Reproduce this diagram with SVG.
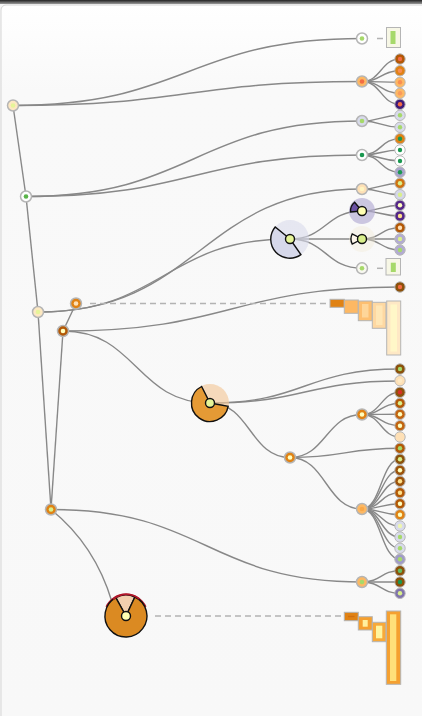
<svg xmlns="http://www.w3.org/2000/svg" width="422" height="716" viewBox="0 0 422 716">
<defs>
<linearGradient id="topbar" x1="0" y1="0" x2="0" y2="1"><stop offset="0" stop-color="#222"/><stop offset="1" stop-color="#999"/></linearGradient>
<linearGradient id="panel" x1="0" y1="0" x2="0" y2="1"><stop offset="0" stop-color="#ffffff"/><stop offset="0.12" stop-color="#f9f9f9"/><stop offset="1" stop-color="#f8f8f8"/></linearGradient>
<style>
.e{fill:none;stroke:#888;stroke-width:1.4}
.n{stroke:#b5b5b5;stroke-width:1.5}
.lf{stroke:#b8b8b8;stroke-width:1}
.w{stroke:#111;stroke-width:1.4}
.d{stroke:#b3b3b3;stroke-width:1.5;stroke-dasharray:6 4;fill:none}
.bar{stroke:#b5b5b5;stroke-width:1}
</style>
</defs>
<rect x="0" y="0" width="422" height="716" fill="#f6f6f6"/>
<rect x="1" y="5" width="440" height="720" rx="5" fill="url(#panel)" stroke="#d6d6d6" stroke-width="1"/>
<rect x="0" y="0" width="422" height="4" fill="url(#topbar)"/>

<g id="connectors">
<path class="e" d="M13,105.5C187.5,105.5 187.5,38.5 362,38.5"/>
<path class="e" d="M13,105.5C187.5,105.5 187.5,81.5 362,81.5"/>
<path class="e" d="M13,105.5L26,196.5"/>
<path class="e" d="M26,196.5C194,196.5 194,121 362,121"/>
<path class="e" d="M26,196.5C194,196.5 194,155 362,155"/>
<path class="e" d="M26,196.5L38,312"/>
<path class="e" d="M38,312C200,312 200,189 362,189"/>
<path class="e" d="M38,312C164,312 164,239 290,239"/>
<path class="e" d="M38,312L51,509.5"/>
<path class="e" d="M51,509.5L63,331"/>
<path class="e" d="M51,509.5C206.5,509.5 206.5,582 362,582"/>
<path class="e" d="M51,509.5Q95,545 112,602"/>
<path class="e" d="M63,331L76,303.5"/>
<path class="e" d="M63,331C136.5,331 136.5,403 210,403"/>
<path class="e" d="M63,331C231.5,331 231.5,287 400,287"/>
<path class="d" d="M90,303.5H330"/>
<path class="d" d="M155,616H344"/>
<path class="d" d="M377,38.5H383"/>
<path class="d" d="M377,268.3H383"/>
<path class="e" d="M290,239C326,239 326,211 362,211"/>
<path class="e" d="M290,239H362"/>
<path class="e" d="M290,239C326,239 326,268.3 362,268.3"/>
<path class="e" d="M210,403C305,403 305,369 400,369"/>
<path class="e" d="M210,403C305,403 305,381 400,381"/>
<path class="e" d="M210,403C250,403 250,457.5 290,457.5"/>
<path class="e" d="M290,457.5C326,457.5 326,414.5 362,414.5"/>
<path class="e" d="M290,457.5C345,457.5 345,448.3 400,448.3"/>
<path class="e" d="M290,457.5C326,457.5 326,509 362,509"/>
<path class="e" d="M362,81.5C381,81.5 381,59 400,59"/>
<path class="e" d="M362,81.5C381,81.5 381,70.7 400,70.7"/>
<path class="e" d="M362,81.5C381,81.5 381,82.3 400,82.3"/>
<path class="e" d="M362,81.5C381,81.5 381,93.3 400,93.3"/>
<path class="e" d="M362,81.5C381,81.5 381,104.3 400,104.3"/>
<path class="e" d="M362,121C381,121 381,115.3 400,115.3"/>
<path class="e" d="M362,121C381,121 381,127.3 400,127.3"/>
<path class="e" d="M362,155C381,155 381,138.7 400,138.7"/>
<path class="e" d="M362,155C381,155 381,150 400,150"/>
<path class="e" d="M362,155C381,155 381,161 400,161"/>
<path class="e" d="M362,155C381,155 381,172.3 400,172.3"/>
<path class="e" d="M362,189C381,189 381,183.3 400,183.3"/>
<path class="e" d="M362,189C381,189 381,194.7 400,194.7"/>
<path class="e" d="M362,211C381,211 381,205.3 400,205.3"/>
<path class="e" d="M362,211C381,211 381,216 400,216"/>
<path class="e" d="M362,239C381,239 381,227.7 400,227.7"/>
<path class="e" d="M362,239C381,239 381,239 400,239"/>
<path class="e" d="M362,239C381,239 381,250 400,250"/>
<path class="e" d="M362,414.5C381,414.5 381,392.3 400,392.3"/>
<path class="e" d="M362,414.5C381,414.5 381,403.3 400,403.3"/>
<path class="e" d="M362,414.5C381,414.5 381,414.3 400,414.3"/>
<path class="e" d="M362,414.5C381,414.5 381,425.7 400,425.7"/>
<path class="e" d="M362,414.5C381,414.5 381,437 400,437"/>
<path class="e" d="M362,509C381,509 381,459.3 400,459.3"/>
<path class="e" d="M362,509C381,509 381,470.3 400,470.3"/>
<path class="e" d="M362,509C381,509 381,481.3 400,481.3"/>
<path class="e" d="M362,509C381,509 381,492.7 400,492.7"/>
<path class="e" d="M362,509C381,509 381,503.7 400,503.7"/>
<path class="e" d="M362,509C381,509 381,514.7 400,514.7"/>
<path class="e" d="M362,509C381,509 381,526 400,526"/>
<path class="e" d="M362,509C381,509 381,537 400,537"/>
<path class="e" d="M362,509C381,509 381,548.3 400,548.3"/>
<path class="e" d="M362,509C381,509 381,559.3 400,559.3"/>
<path class="e" d="M362,582C381,582 381,570.7 400,570.7"/>
<path class="e" d="M362,582C381,582 381,582 400,582"/>
<path class="e" d="M362,582C381,582 381,593.3 400,593.3"/>
</g>

<g id="n-root"><circle class="n" cx="13" cy="105.5" r="5.5" fill="#fde8c2"/><circle cx="13" cy="105.5" r="2.3" fill="#e6f598"/></g>
<g id="n-1"><circle class="n" cx="26" cy="196.5" r="5.5" fill="#ffffff"/><circle cx="26" cy="196.5" r="2.3" fill="#5ab44a"/></g>
<g id="n-2"><circle class="n" cx="38" cy="312" r="5.5" fill="#fde8c2"/><circle cx="38" cy="312" r="2.3" fill="#e6f598"/></g>
<g id="n-3"><circle class="n" cx="51" cy="509.5" r="5.5" fill="#e08214"/><circle cx="51" cy="509.5" r="2.3" fill="#d9ef8b"/></g>
<g id="n-4"><circle class="n" cx="63" cy="331" r="5.5" fill="#b35806"/><circle cx="63" cy="331" r="2.3" fill="#ffffbf"/></g>
<g id="n-5"><circle class="n" cx="76" cy="303.5" r="5.5" fill="#e08214"/><circle cx="76" cy="303.5" r="2.3" fill="#fee0b6"/></g>
<g id="n-a"><circle class="n" cx="362" cy="38.5" r="5.5" fill="#ffffff"/><circle cx="362" cy="38.5" r="2.3" fill="#a6d96a"/></g>
<g id="n-b"><circle class="n" cx="362" cy="81.5" r="5.5" fill="#fdb863"/><circle cx="362" cy="81.5" r="2.3" fill="#f46d43"/></g>
<g id="n-c"><circle class="n" cx="362" cy="121" r="5.5" fill="#d8daeb"/><circle cx="362" cy="121" r="2.3" fill="#a6d96a"/></g>
<g id="n-d"><circle class="n" cx="362" cy="155" r="5.5" fill="#ffffff"/><circle cx="362" cy="155" r="2.3" fill="#1a9850"/></g>
<g id="n-e"><circle class="n" cx="362" cy="189" r="5.5" fill="#fee0b6"/><circle cx="362" cy="189" r="2.3" fill="#fff5c0"/></g>
<g id="n-f"><circle class="n" cx="362" cy="268.3" r="5.5" fill="#f8f8f0"/><circle cx="362" cy="268.3" r="2.3" fill="#a6d96a"/></g>
<g id="n-g"><circle class="n" cx="290" cy="457.5" r="5.5" fill="#e08214"/><circle cx="290" cy="457.5" r="2.3" fill="#ffffbf"/></g>
<g id="n-h"><circle class="n" cx="362" cy="414.5" r="5.5" fill="#e08214"/><circle cx="362" cy="414.5" r="2.3" fill="#ffffbf"/></g>
<g id="n-i"><circle class="n" cx="362" cy="509" r="5.5" fill="#fdb863"/><circle cx="362" cy="509" r="2.3" fill="#f9a848"/></g>
<g id="n-j"><circle class="n" cx="362" cy="582" r="5.5" fill="#fdb863"/><circle cx="362" cy="582" r="2.3" fill="#a6d96a"/></g>

<g id="pie-1">
<circle cx="290" cy="239" r="19" fill="#d8daeb" opacity="0.6"/>
<path class="w" d="M290,239L300.9,254.6A19,19 0 0 1 275.2,227Z" fill="#d6d8ea"/>
<circle class="w" cx="290" cy="239" r="4.5" fill="#e6f598"/>
</g>
<g id="pie-2">
<circle cx="362" cy="211" r="13" fill="#b2abd2" opacity="0.65"/>
<path class="w" d="M362,211L350.5,212A11.5,11.5 0 0 1 354.6,202.2Z" fill="#6a51a3"/>
<circle class="w" cx="362" cy="211" r="4.5" fill="#ffffb2"/>
</g>
<g id="pie-3">
<circle cx="362" cy="239" r="13" fill="#f3ecd8" opacity="0.4"/>
<path class="w" d="M362,239L352.2,244A11,11 0 0 1 352.2,234Z" fill="#fdf6ea"/>
<circle class="w" cx="362" cy="239" r="4.5" fill="#d9ef8b"/>
</g>
<g id="pie-4">
<circle cx="210" cy="403" r="19" fill="#f3c89a" opacity="0.65"/>
<path class="w" d="M210,403L228.2,406.2A18.5,18.5 0 1 1 201.6,386.5Z" fill="#e59a35"/>
<circle class="w" cx="210" cy="403" r="4.5" fill="#e6f598"/>
</g>
<g id="pie-5">
<path d="M106.5,606.9A21.5,21.5 0 0 1 145.5,606.9" fill="none" stroke="#b2182b" stroke-width="2.2"/>
<path class="w" d="M126,616L115.8,597.6A21,21 0 0 1 134.9,597Z" fill="#f2cfae"/>
<path class="w" d="M126,616L134.9,597A21,21 0 1 1 115.8,597.6Z" fill="#db8a22"/>
<path d="M113,599.3A21,21 0 0 1 139.5,599" fill="none" stroke="#b2182b" stroke-width="1.6"/>
<circle class="w" cx="126" cy="616" r="4.5" fill="#ffffb2"/>
</g>

<g id="bar-top">
<rect class="bar" x="386.5" y="27.5" width="14" height="20" fill="#f7f7e6"/>
<rect x="390.5" y="31" width="5" height="13" fill="#a6d96a"/>
</g>
<g id="bar-mid">
<rect class="bar" x="386" y="258.5" width="14.5" height="16.5" fill="#f7f7e6"/>
<rect x="390.8" y="262.7" width="5" height="9.3" fill="#a6d96a"/>
</g>
<g id="bars-1">
<rect class="bar" x="330" y="299.3" width="14.3" height="8" fill="#e08214"/>
<rect class="bar" x="344.3" y="300" width="14" height="13.3" fill="#fdb863"/>
<rect class="bar" x="358.3" y="301" width="14" height="19.7" fill="#fdbf70"/>
<rect x="362" y="304" width="6.5" height="13.5" fill="#fed699"/>
<rect class="bar" x="372.3" y="302.3" width="13.7" height="26" fill="#fed8a2"/>
<rect x="376" y="305.5" width="6.5" height="19.5" fill="#ffe6b5"/>
<rect class="bar" x="386.7" y="301" width="14" height="54" fill="#fee8c5"/>
<rect x="390.5" y="304.5" width="6.5" height="47" fill="#fff7c8"/>
</g>
<g id="bars-2">
<rect class="bar" x="344.3" y="612.3" width="14" height="8.4" fill="#e08214"/>
<rect x="348" y="615.8" width="6.5" height="1.4" fill="#d06f10"/>
<rect class="bar" x="358.3" y="616.7" width="14" height="13.3" fill="#f5a030"/>
<rect x="362.7" y="620" width="5" height="6.7" fill="#fff0a0"/>
<rect class="bar" x="372.3" y="622.3" width="13.7" height="19.4" fill="#f7a93a"/>
<rect x="376" y="625.7" width="6.3" height="12.6" fill="#fff5a0"/>
<rect class="bar" x="386.3" y="611" width="14.4" height="73.3" fill="#f5a030"/>
<rect x="390" y="614.3" width="6.3" height="66.7" fill="#ffe07a"/>
</g>

<g id="leaves">
<g id="l01"><circle class="lf" cx="400" cy="59" r="5.2" fill="#b35806"/><circle cx="400" cy="59" r="2.2" fill="#f46d43"/></g>
<g id="l02"><circle class="lf" cx="400" cy="70.7" r="5.2" fill="#e08214"/><circle cx="400" cy="70.7" r="2.2" fill="#f88d52"/></g>
<g id="l03"><circle class="lf" cx="400" cy="82.3" r="5.2" fill="#fdb863"/><circle cx="400" cy="82.3" r="2.2" fill="#f98e52"/></g>
<g id="l04"><circle class="lf" cx="400" cy="93.3" r="5.2" fill="#fdb863"/><circle cx="400" cy="93.3" r="2.2" fill="#f99a5c"/></g>
<g id="l05"><circle class="lf" cx="400" cy="104.3" r="5.2" fill="#3f1a78"/><circle cx="400" cy="104.3" r="2.2" fill="#f46d43"/></g>
<g id="l06"><circle class="lf" cx="400" cy="115.3" r="5.2" fill="#d8daeb"/><circle cx="400" cy="115.3" r="2.2" fill="#a6d96a"/></g>
<g id="l07"><circle class="lf" cx="400" cy="127.3" r="5.2" fill="#d8daeb"/><circle cx="400" cy="127.3" r="2.2" fill="#a6d96a"/></g>
<g id="l08"><circle class="lf" cx="400" cy="138.7" r="5.2" fill="#e08214"/><circle cx="400" cy="138.7" r="2.2" fill="#1a9850"/></g>
<g id="l09"><circle class="lf" cx="400" cy="150" r="5.2" fill="#ffffff"/><circle cx="400" cy="150" r="2.2" fill="#1a9850"/></g>
<g id="l10"><circle class="lf" cx="400" cy="161" r="5.2" fill="#ffffff"/><circle cx="400" cy="161" r="2.2" fill="#1a9850"/></g>
<g id="l11"><circle class="lf" cx="400" cy="172.3" r="5.2" fill="#a9a4cc"/><circle cx="400" cy="172.3" r="2.2" fill="#1a9850"/></g>
<g id="l12"><circle class="lf" cx="400" cy="183.3" r="5.2" fill="#cf7210"/><circle cx="400" cy="183.3" r="2.2" fill="#d9ef8b"/></g>
<g id="l13"><circle class="lf" cx="400" cy="194.7" r="5.2" fill="#d4d6ea"/><circle cx="400" cy="194.7" r="2.2" fill="#d9ef8b"/></g>
<g id="l14"><circle class="lf" cx="400" cy="205.3" r="5.2" fill="#542788"/><circle cx="400" cy="205.3" r="2.2" fill="#ffffbf"/></g>
<g id="l15"><circle class="lf" cx="400" cy="216" r="5.2" fill="#542788"/><circle cx="400" cy="216" r="2.2" fill="#fee08b"/></g>
<g id="l16"><circle class="lf" cx="400" cy="227.7" r="5.2" fill="#b35806"/><circle cx="400" cy="227.7" r="2.2" fill="#fee0b6"/></g>
<g id="l17"><circle class="lf" cx="400" cy="239" r="5.2" fill="#b2abd2"/><circle cx="400" cy="239" r="2.2" fill="#d9ef8b"/></g>
<g id="l18"><circle class="lf" cx="400" cy="250" r="5.2" fill="#b2abd2"/><circle cx="400" cy="250" r="2.2" fill="#a6d96a"/></g>
<g id="l19"><circle class="lf" cx="400" cy="287" r="5.2" fill="#8c510a"/><circle cx="400" cy="287" r="2.2" fill="#f46d43"/></g>
<g id="l20"><circle class="lf" cx="400" cy="369" r="5.2" fill="#8c510a"/><circle cx="400" cy="369" r="2.2" fill="#a6d96a"/></g>
<g id="l21"><circle class="lf" cx="400" cy="380.7" r="5.2" fill="#fee0b6"/><circle cx="400" cy="380.7" r="2.2" fill="#feeac4"/></g>
<g id="l22"><circle class="lf" cx="400" cy="392.3" r="5.2" fill="#8c510a"/><circle cx="400" cy="392.3" r="2.2" fill="#d73027"/></g>
<g id="l23"><circle class="lf" cx="400" cy="403.3" r="5.2" fill="#b35806"/><circle cx="400" cy="403.3" r="2.2" fill="#d9ef8b"/></g>
<g id="l24"><circle class="lf" cx="400" cy="414.3" r="5.2" fill="#c26410"/><circle cx="400" cy="414.3" r="2.2" fill="#ffffbf"/></g>
<g id="l25"><circle class="lf" cx="400" cy="425.7" r="5.2" fill="#c26410"/><circle cx="400" cy="425.7" r="2.2" fill="#ffffbf"/></g>
<g id="l26"><circle class="lf" cx="400" cy="437" r="5.2" fill="#fee0b6"/><circle cx="400" cy="437" r="2.2" fill="#fee0b6"/></g>
<g id="l27"><circle class="lf" cx="400" cy="448.3" r="5.2" fill="#b35806"/><circle cx="400" cy="448.3" r="2.2" fill="#a6d96a"/></g>
<g id="l28"><circle class="lf" cx="400" cy="459.3" r="5.2" fill="#8c510a"/><circle cx="400" cy="459.3" r="2.2" fill="#d9ef8b"/></g>
<g id="l29"><circle class="lf" cx="400" cy="470.3" r="5.2" fill="#9c520a"/><circle cx="400" cy="470.3" r="2.2" fill="#ffffbf"/></g>
<g id="l30"><circle class="lf" cx="400" cy="481.3" r="5.2" fill="#9c520a"/><circle cx="400" cy="481.3" r="2.2" fill="#fee08b"/></g>
<g id="l31"><circle class="lf" cx="400" cy="492.7" r="5.2" fill="#b35806"/><circle cx="400" cy="492.7" r="2.2" fill="#fee08b"/></g>
<g id="l32"><circle class="lf" cx="400" cy="503.7" r="5.2" fill="#b35806"/><circle cx="400" cy="503.7" r="2.2" fill="#ffffbf"/></g>
<g id="l33"><circle class="lf" cx="400" cy="514.7" r="5.2" fill="#e08214"/><circle cx="400" cy="514.7" r="2.2" fill="#ffffbf"/></g>
<g id="l34"><circle class="lf" cx="400" cy="526" r="5.2" fill="#d8daeb"/><circle cx="400" cy="526" r="2.2" fill="#eef6b0"/></g>
<g id="l35"><circle class="lf" cx="400" cy="537" r="5.2" fill="#d8daeb"/><circle cx="400" cy="537" r="2.2" fill="#a6d96a"/></g>
<g id="l36"><circle class="lf" cx="400" cy="548.3" r="5.2" fill="#d8daeb"/><circle cx="400" cy="548.3" r="2.2" fill="#a6d96a"/></g>
<g id="l37"><circle class="lf" cx="400" cy="559.3" r="5.2" fill="#a09bc9"/><circle cx="400" cy="559.3" r="2.2" fill="#a6d96a"/></g>
<g id="l38"><circle class="lf" cx="400" cy="570.7" r="5.2" fill="#8c510a"/><circle cx="400" cy="570.7" r="2.2" fill="#66bd63"/></g>
<g id="l39"><circle class="lf" cx="400" cy="582" r="5.2" fill="#8c510a"/><circle cx="400" cy="582" r="2.2" fill="#1a9850"/></g>
<g id="l40"><circle class="lf" cx="400" cy="593.3" r="5.2" fill="#8073ac"/><circle cx="400" cy="593.3" r="2.2" fill="#d9ef8b"/></g>
</g>
</svg>
